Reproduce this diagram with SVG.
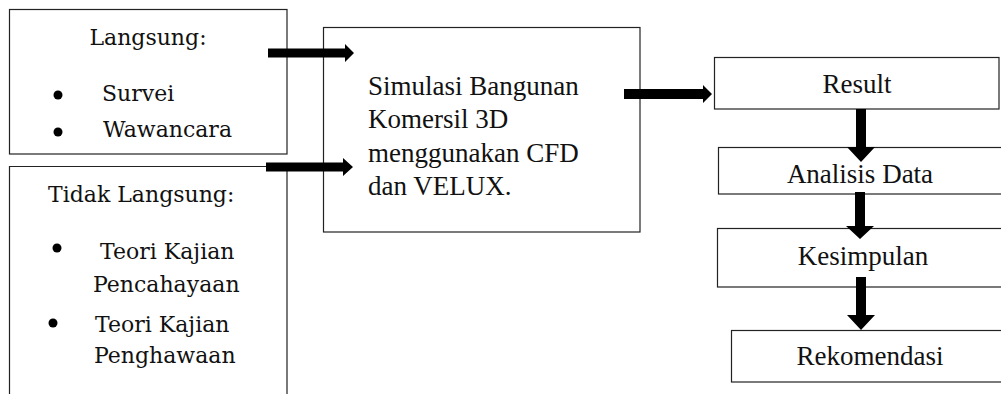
<svg xmlns="http://www.w3.org/2000/svg" width="1001" height="394" viewBox="0 0 1001 394">
<style>
.box{fill:#fff;stroke:#222;stroke-width:1.2}
.cam{font-family:"DejaVu Serif","Liberation Serif",serif;font-size:22px;fill:#111}
.tnr{font-family:"Liberation Serif","Times New Roman",serif;font-size:27px;fill:#111}
.arr{fill:#000}
</style>
<rect width="1001" height="394" fill="#fff"/>
<g id="langsung">
<rect class="box" x="9.5" y="9.5" width="277.5" height="144.5"/>
<text class="cam" x="148" y="45" text-anchor="middle">Langsung:</text>
<circle cx="58" cy="95" r="4.5" fill="#000"/>
<text class="cam" x="102" y="101">Survei</text>
<circle cx="58" cy="132" r="4.5" fill="#000"/>
<text class="cam" x="103" y="137">Wawancara</text>
</g>
<g id="tidak-langsung">
<path class="box" d="M9.5,400 V166.5 H287 V400"/>
<text class="cam" x="48" y="202">Tidak Langsung:</text>
<circle cx="57" cy="248" r="4.5" fill="#000"/>
<text class="cam" x="100" y="259">Teori Kajian</text>
<text class="cam" x="93" y="292">Pencahayaan</text>
<circle cx="53" cy="323" r="4.5" fill="#000"/>
<text class="cam" x="95" y="332">Teori Kajian</text>
<text class="cam" x="94" y="363">Penghawaan</text>
</g>
<g id="simulasi">
<rect class="box" x="323.5" y="27.5" width="316.5" height="204.5"/>
<text class="tnr" x="368" y="95">Simulasi Bangunan</text>
<text class="tnr" x="368" y="128">Komersil 3D</text>
<text class="tnr" x="368" y="162">menggunakan CFD</text>
<text class="tnr" x="368" y="195">dan VELUX.</text>
</g>
<g id="result">
<rect class="box" x="714.5" y="57.5" width="284.5" height="51.5"/>
<text class="tnr" x="857" y="93" text-anchor="middle">Result</text>
</g>
<g id="analisis">
<rect class="box" x="718.5" y="147.5" width="290" height="46.5"/>
<text class="tnr" x="860" y="183" text-anchor="middle">Analisis Data</text>
</g>
<g id="kesimpulan">
<rect class="box" x="717.5" y="228.5" width="290" height="58.5"/>
<text class="tnr" x="863" y="265" text-anchor="middle">Kesimpulan</text>
</g>
<g id="rekomendasi">
<rect class="box" x="731.5" y="330.5" width="280" height="51.5"/>
<text class="tnr" x="870" y="365" text-anchor="middle">Rekomendasi</text>
</g>
<g id="connectors">
<polygon class="arr" points="268,48.5 345,48.5 345,44 354,53 345,62 345,57.5 268,57.5"/>
<polygon class="arr" points="266,162.5 343,162.5 343,158 353,167 343,176 343,171.5 266,171.5"/>
<polygon class="arr" points="624,89 703,89 703,85 712,94 703,103 703,99 624,99"/>
<polygon class="arr" points="856,109 866,109 866,147 875,147 861,162 847,147 856,147"/>
<polygon class="arr" points="855,192 865,192 865,226 874,226 860,239 846,226 855,226"/>
<polygon class="arr" points="856,277 866,277 866,315 875,315 861,330 847,315 856,315"/>
</g>
</svg>
